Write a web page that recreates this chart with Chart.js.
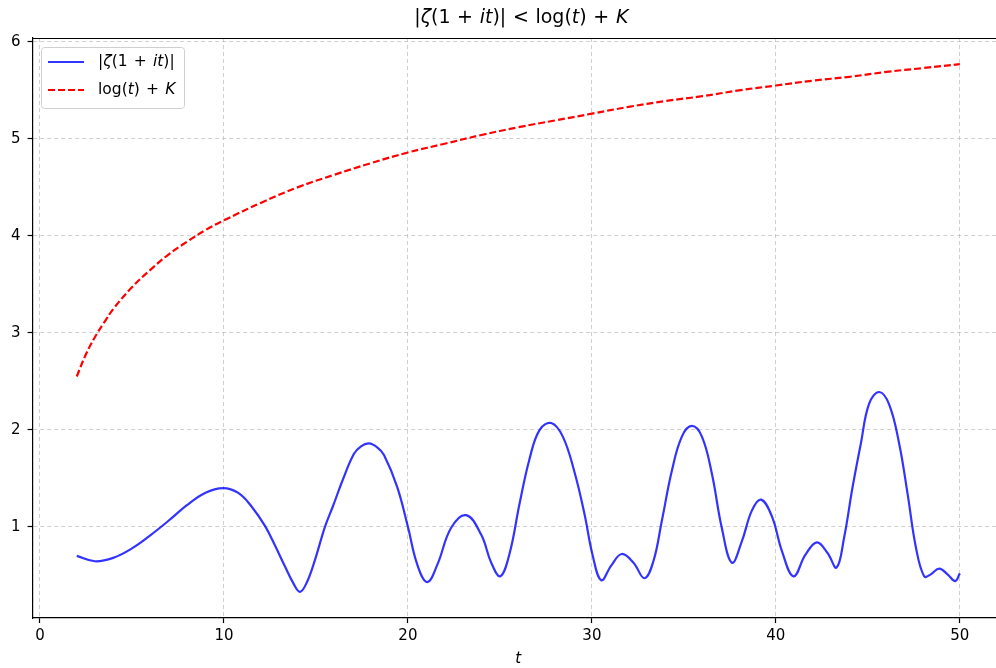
<!DOCTYPE html>
<html lang="en">
<head>
    <meta charset="UTF-8">
    <title>zeta bound</title>
    <script src="https://cdn.jsdelivr.net/npm/chart.js"></script>
    <style>
        html, body { margin: 0; padding: 0; background: #fff; overflow: hidden; }
        #wrap { width: 1010px; height: 668px; }
    </style>
</head>
<body>
    <div id="wrap">
        <canvas id="grafico" width="1010" height="668"></canvas>
    </div>

<script>
    // values
    var tZeta = [2.0, 2.99, 3.98, 4.98, 5.98, 6.97, 7.97, 8.97, 9.96, 10.78, 11.5, 12.23, 12.77, 13.32, 13.77, 14.13,
        14.49, 14.95, 15.49, 15.94, 16.43, 17.06, 17.45, 17.88, 18.33, 18.7, 19.42, 20.0, 20.51, 21.05, 21.6, 22.35, 23.17,
        23.98, 24.53, 25.02, 25.52, 26.07, 26.61, 27.16, 27.79, 28.42, 29.06, 29.6, 30.05, 30.51, 31.05, 31.62,
        32.26, 32.86, 33.35, 33.8, 34.35, 34.89, 35.43, 35.98, 36.52, 37.06, 37.61, 38.15, 38.7, 39.2, 39.78,
        40.33, 40.96, 41.6, 42.23, 42.81, 43.3, 43.71, 44.17, 44.62, 45.07, 45.62, 46.16, 46.7, 47.16, 47.61,
        48.06, 48.42, 48.88, 49.33, 49.75, 50.0]
    var zetaAbs = [0.70, 0.645, 0.68, 0.775, 0.91, 1.06, 1.22, 1.35, 1.40, 1.35, 1.21, 1.01, 0.81, 0.59, 0.42, 0.33,
        0.42, 0.66, 1.00, 1.22, 1.47, 1.75, 1.83, 1.86, 1.82, 1.74, 1.41, 1.00, 0.61, 0.43, 0.61, 0.99, 1.12,
        0.92, 0.63, 0.49, 0.72, 1.24, 1.70, 2.00, 2.07, 1.93, 1.56, 1.13, 0.70, 0.45, 0.60, 0.72,
        0.63, 0.47, 0.65, 1.06, 1.58, 1.93, 2.04, 1.93, 1.55, 0.99, 0.63, 0.85, 1.17, 1.28, 1.11,
        0.75, 0.49, 0.71, 0.84, 0.73, 0.58, 0.89, 1.41, 1.86, 2.27, 2.39, 2.26, 1.86, 1.34, 0.79,
        0.49, 0.51, 0.57, 0.51, 0.44, 0.52]

    var tBound = [2, 2.5, 3, 3.5, 4, 5, 6, 7, 8, 9, 10, 12, 14, 16, 18, 20, 22, 24, 26, 28, 30, 32, 34, 36, 38, 40, 42, 44, 46, 48, 50]
    var bound = [2.55, 2.78, 2.96, 3.11, 3.25, 3.47, 3.65, 3.81, 3.94, 4.06, 4.16, 4.34, 4.50, 4.63, 4.75, 4.86,
        4.95, 5.04, 5.12, 5.19, 5.26, 5.33, 5.39, 5.44, 5.50, 5.55, 5.60, 5.64, 5.69, 5.73, 5.77]

    var xTicks = [0, 10, 20, 30, 40, 50]
    var yTicks = [1, 2, 3, 4, 5, 6]

    // text pieces: [text, italic]
    var titlePieces = [['|', 0], ['ζ', 1], ['(1 + ', 0], ['it', 1], [')| < log(', 0], ['t', 1], [') + ', 0], ['K', 1]]
    var legendPieces = [
        [['|', 0], ['ζ', 1], ['(1 + ', 0], ['it', 1], [')|', 0]],
        [['log(', 0], ['t', 1], [') + ', 0], ['K', 1]]
    ]

    var FONT = '"DejaVu Sans", sans-serif'

    // spaces are drawn a bit wider, like mathtext does around operators
    function drawPieces(ctx, pieces, size, gap, x, y, measureOnly) {
        var start = x
        ctx.textAlign = 'left'
        ctx.textBaseline = 'middle'
        ctx.fillStyle = '#000'
        pieces.forEach(function (p) {
            ctx.font = (p[1] ? 'italic ' : '') + size + 'px ' + FONT
            p[0].split(' ').forEach(function (part, k) {
                if (k > 0) x += size * gap
                if (!measureOnly) ctx.fillText(part, x, y)
                x += ctx.measureText(part).width
            })
        })
        return x - start
    }

    var extras = {
        id: 'extras',
        afterDraw: function (chart) {
            var ctx = chart.ctx
            var a = chart.chartArea
            ctx.save()

            // top spine
            ctx.strokeStyle = '#000'
            ctx.lineWidth = 1.2
            ctx.beginPath()
            ctx.moveTo(a.left, Math.round(a.top) + 0.5)
            ctx.lineTo(a.right, Math.round(a.top) + 0.5)
            ctx.stroke()

            // title
            var tw = drawPieces(ctx, titlePieces, 19, 0.35, 0, 0, true)
            drawPieces(ctx, titlePieces, 19, 0.35, (a.left + a.right) / 2 - tw / 2 + 3, 18)

            // legend
            var bx = 41.5, by = 47.5, bw = 143, bh = 61
            ctx.fillStyle = 'rgba(255,255,255,0.8)'
            ctx.strokeStyle = '#d0d0d0'
            ctx.lineWidth = 1
            ctx.beginPath()
            ctx.roundRect(bx, by, bw, bh, 3)
            ctx.fill()
            ctx.stroke()

            chart.data.datasets.forEach(function (ds, i) {
                var ly = 62 + i * 28
                ctx.strokeStyle = ds.borderColor
                ctx.lineWidth = ds.borderWidth
                ctx.setLineDash(ds.borderDash || [])
                ctx.beginPath()
                ctx.moveTo(48, ly)
                ctx.lineTo(84, ly)
                ctx.stroke()
                ctx.setLineDash([])
                drawPieces(ctx, legendPieces[i], 15.5, 0.4, 98, ly)
            })
            ctx.restore()
        }
    }

    new Chart(document.getElementById('grafico'), {
        type: 'line',
        data: {
            datasets: [{
                label: '|ζ(1 + it)|',
                data: tZeta.map(function (t, i) { return { x: t, y: zetaAbs[i] } }),
                borderColor: 'rgba(0,0,255,0.8)',
                borderWidth: 2.2,
                pointRadius: 0,
                tension: 0.4
            }, {
                label: 'log(t) + K',
                data: tBound.map(function (t, i) { return { x: t, y: bound[i] } }),
                borderColor: '#ff0000',
                borderWidth: 2.2,
                borderDash: [7, 3],
                pointRadius: 0,
                tension: 0.4
            }]
        },
        options: {
            responsive: false,
            animation: false,
            devicePixelRatio: 1,
            layout: { padding: { left: 0, top: 38, right: 6, bottom: 0 } },
            plugins: {
                legend: { display: false },
                title: { display: false },
                tooltip: { enabled: false }
            },
            scales: {
                x: {
                    type: 'linear',
                    min: -0.4,
                    max: 52.4,
                    afterBuildTicks: function (s) { s.ticks = xTicks.map(function (v) { return { value: v } }) },
                    afterFit: function (s) { s.height = 50 },
                    grid: {
                        color: 'rgba(176,176,176,0.6)',
                        lineWidth: 1,
                        tickLength: 5,
                        tickColor: '#000',
                        tickWidth: 1.2
                    },
                    border: { display: true, color: '#000', width: 1.2, dash: [4, 3] },
                    ticks: { color: '#000', padding: 4, font: { family: FONT, size: 15 }, maxRotation: 0 },
                    title: {
                        display: true,
                        text: 't',
                        color: '#000',
                        padding: { top: 0, bottom: 0 },
                        font: { family: FONT, size: 15, style: 'italic' }
                    }
                },
                y: {
                    type: 'linear',
                    min: 0.06,
                    max: 6.04,
                    afterBuildTicks: function (s) { s.ticks = yTicks.map(function (v) { return { value: v } }) },
                    afterFit: function (s) { s.width = 32.6 },
                    grid: {
                        color: 'rgba(176,176,176,0.6)',
                        lineWidth: 1,
                        tickLength: 5,
                        tickColor: '#000',
                        tickWidth: 1.2
                    },
                    border: { display: true, color: '#000', width: 1.2, dash: [4, 3] },
                    ticks: { color: '#000', padding: 7, font: { family: FONT, size: 15 } }
                }
            }
        },
        plugins: [extras]
    });
</script>
</body>
</html>
